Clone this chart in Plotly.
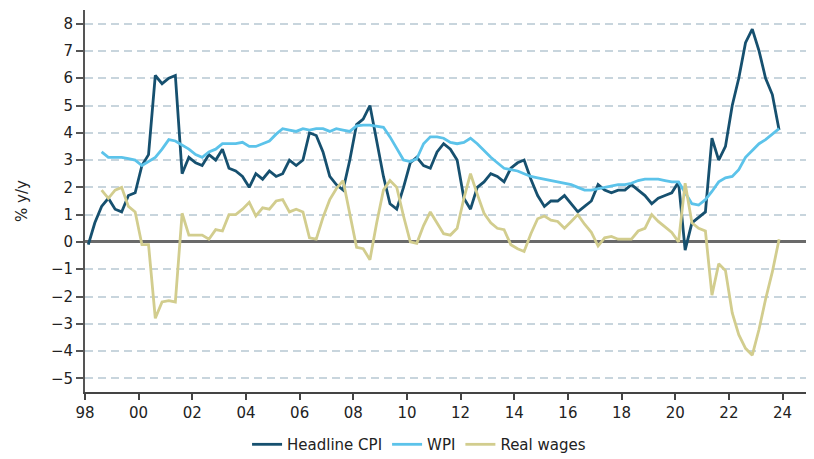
import plotly.graph_objects as go

years = list(range(1998, 2024))
quarter_days = ["02-15", "05-15", "08-15", "11-15"]
dates = [f"{y}-{d}" for y in years for d in quarter_days]

headline_cpi = [
    -0.1, 0.7, 1.3, 1.6,
    1.2, 1.1, 1.7, 1.8,
    2.8, 3.2, 6.1, 5.8,
    6.0, 6.1, 2.5, 3.1,
    2.9, 2.8, 3.2, 3.0,
    3.4, 2.7, 2.6, 2.4,
    2.0, 2.5, 2.3, 2.6,
    2.4, 2.5, 3.0, 2.8,
    3.0, 4.0, 3.9, 3.3,
    2.4, 2.1, 1.9, 3.0,
    4.3, 4.5, 5.0, 3.7,
    2.4, 1.4, 1.2, 2.0,
    2.9, 3.1, 2.8, 2.7,
    3.3, 3.6, 3.4, 3.0,
    1.6, 1.2, 2.0, 2.2,
    2.5, 2.4, 2.2, 2.7,
    2.9, 3.0, 2.3, 1.7,
    1.3, 1.5, 1.5, 1.7,
    1.4, 1.1, 1.3, 1.5,
    2.1, 1.9, 1.8, 1.9,
    1.9, 2.1, 1.9, 1.7,
    1.4, 1.6, 1.7, 1.8,
    2.2, -0.3, 0.7, 0.9,
    1.1, 3.8, 3.0, 3.5,
    5.0, 6.0, 7.3, 7.8,
    7.0, 6.0, 5.4, 4.1,
]

wpi = [
    None, None, 3.3, 3.1,
    3.1, 3.1, 3.05, 3.0,
    2.8, 2.95, 3.1, 3.4,
    3.75, 3.7, 3.55, 3.4,
    3.2, 3.1, 3.3, 3.4,
    3.6, 3.6, 3.6, 3.65,
    3.5, 3.5, 3.6, 3.7,
    3.95, 4.15, 4.1, 4.05,
    4.15, 4.1, 4.15, 4.15,
    4.05, 4.15, 4.1, 4.05,
    4.25, 4.28, 4.28, 4.25,
    4.2, 3.85, 3.4, 3.0,
    2.95, 3.05, 3.6, 3.85,
    3.85, 3.8, 3.65, 3.6,
    3.65, 3.8, 3.6, 3.35,
    3.1, 2.9, 2.7, 2.65,
    2.6, 2.5, 2.4, 2.35,
    2.3, 2.25, 2.2, 2.15,
    2.1, 2.0, 1.9, 1.9,
    1.95, 2.0, 2.05, 2.1,
    2.1, 2.15, 2.25, 2.3,
    2.3, 2.3, 2.25, 2.2,
    2.2, 1.8, 1.4, 1.35,
    1.55, 1.85, 2.2, 2.35,
    2.4, 2.65, 3.1, 3.35,
    3.6, 3.75, 3.95, 4.15,
]

real_wages = [
    None, None, 1.9, 1.6,
    1.9, 2.0, 1.3, 1.1,
    -0.1, -0.1, -2.8, -2.2,
    -2.15, -2.2, 1.05, 0.25,
    0.25, 0.25, 0.1, 0.45,
    0.4, 1.0, 1.0, 1.2,
    1.45, 0.95, 1.25, 1.2,
    1.5, 1.55, 1.1, 1.2,
    1.1, 0.15, 0.1, 0.9,
    1.55, 1.95, 2.25, 1.0,
    -0.2, -0.25, -0.65, 0.7,
    1.9, 2.25, 2.0, 0.95,
    0.0, -0.05, 0.6, 1.1,
    0.7, 0.3, 0.25, 0.5,
    1.6, 2.5, 1.75, 1.05,
    0.7, 0.5, 0.45, -0.1,
    -0.25, -0.35, 0.3, 0.85,
    0.95, 0.8, 0.75, 0.5,
    0.75, 1.0, 0.65, 0.35,
    -0.15, 0.15, 0.2, 0.1,
    0.1, 0.1, 0.4, 0.5,
    1.0, 0.75, 0.55, 0.35,
    0.0, 2.15, 0.7, 0.5,
    0.4, -1.95, -0.8, -1.05,
    -2.6, -3.4, -3.9, -4.15,
    -3.2, -2.1, -1.1, 0.1,
]

series = [
    ("Headline CPI", headline_cpi, "#16506f"),
    ("WPI", wpi, "#5cc3ea"),
    ("Real wages", real_wages, "#d2cd8e"),
]

font_family = "DejaVu Sans, Verdana, sans-serif"

fig = go.Figure()
for name, vals, color in series:
    fig.add_trace(go.Scatter(
        x=dates, y=vals, name=name, mode="lines",
        line=dict(color=color, width=2.8),
    ))

# page body has an 8px default margin, so the figure is sized to fit the window
fig.update_layout(
    width=806, height=451,
    margin=dict(l=77, r=2, t=2, b=67),
    paper_bgcolor="white", plot_bgcolor="white",
    font=dict(family=font_family, size=15, color="#222222"),
    showlegend=True,
    legend=dict(
        orientation="h", xref="container", yref="container",
        x=0.51, xanchor="center", y=0.032, yanchor="middle",
        font=dict(size=15, color="#222222"),
        itemwidth=30, tracegroupgap=0,
        bgcolor="rgba(0,0,0,0)",
    ),
)

fig.update_xaxes(
    type="date",
    range=["1998-01-01", "2025-02-05"],
    tick0="1998-01-01", dtick="M24", tickformat="%y",
    showgrid=False, zeroline=False,
    showline=True, linecolor="#444444", linewidth=2,
    ticks="outside", ticklen=6, tickcolor="#444444", tickwidth=1.5,
    tickfont=dict(size=15, color="#222222"),
)

fig.update_yaxes(
    range=[-5.5, 8.5], dtick=1, tick0=0,
    showgrid=True, gridcolor="#c8d5dd", gridwidth=1.5, griddash="8px,5px",
    zeroline=True, zerolinecolor="#6a6a6a", zerolinewidth=3,
    showline=True, linecolor="#555555", linewidth=2,
    ticks="outside", ticklen=7, tickcolor="#555555", tickwidth=1.5,
    tickfont=dict(size=15, color="#222222"),
    title=dict(text="% y/y", standoff=20, font=dict(size=15, color="#222222")),
)

fig.write_html("out.html")
